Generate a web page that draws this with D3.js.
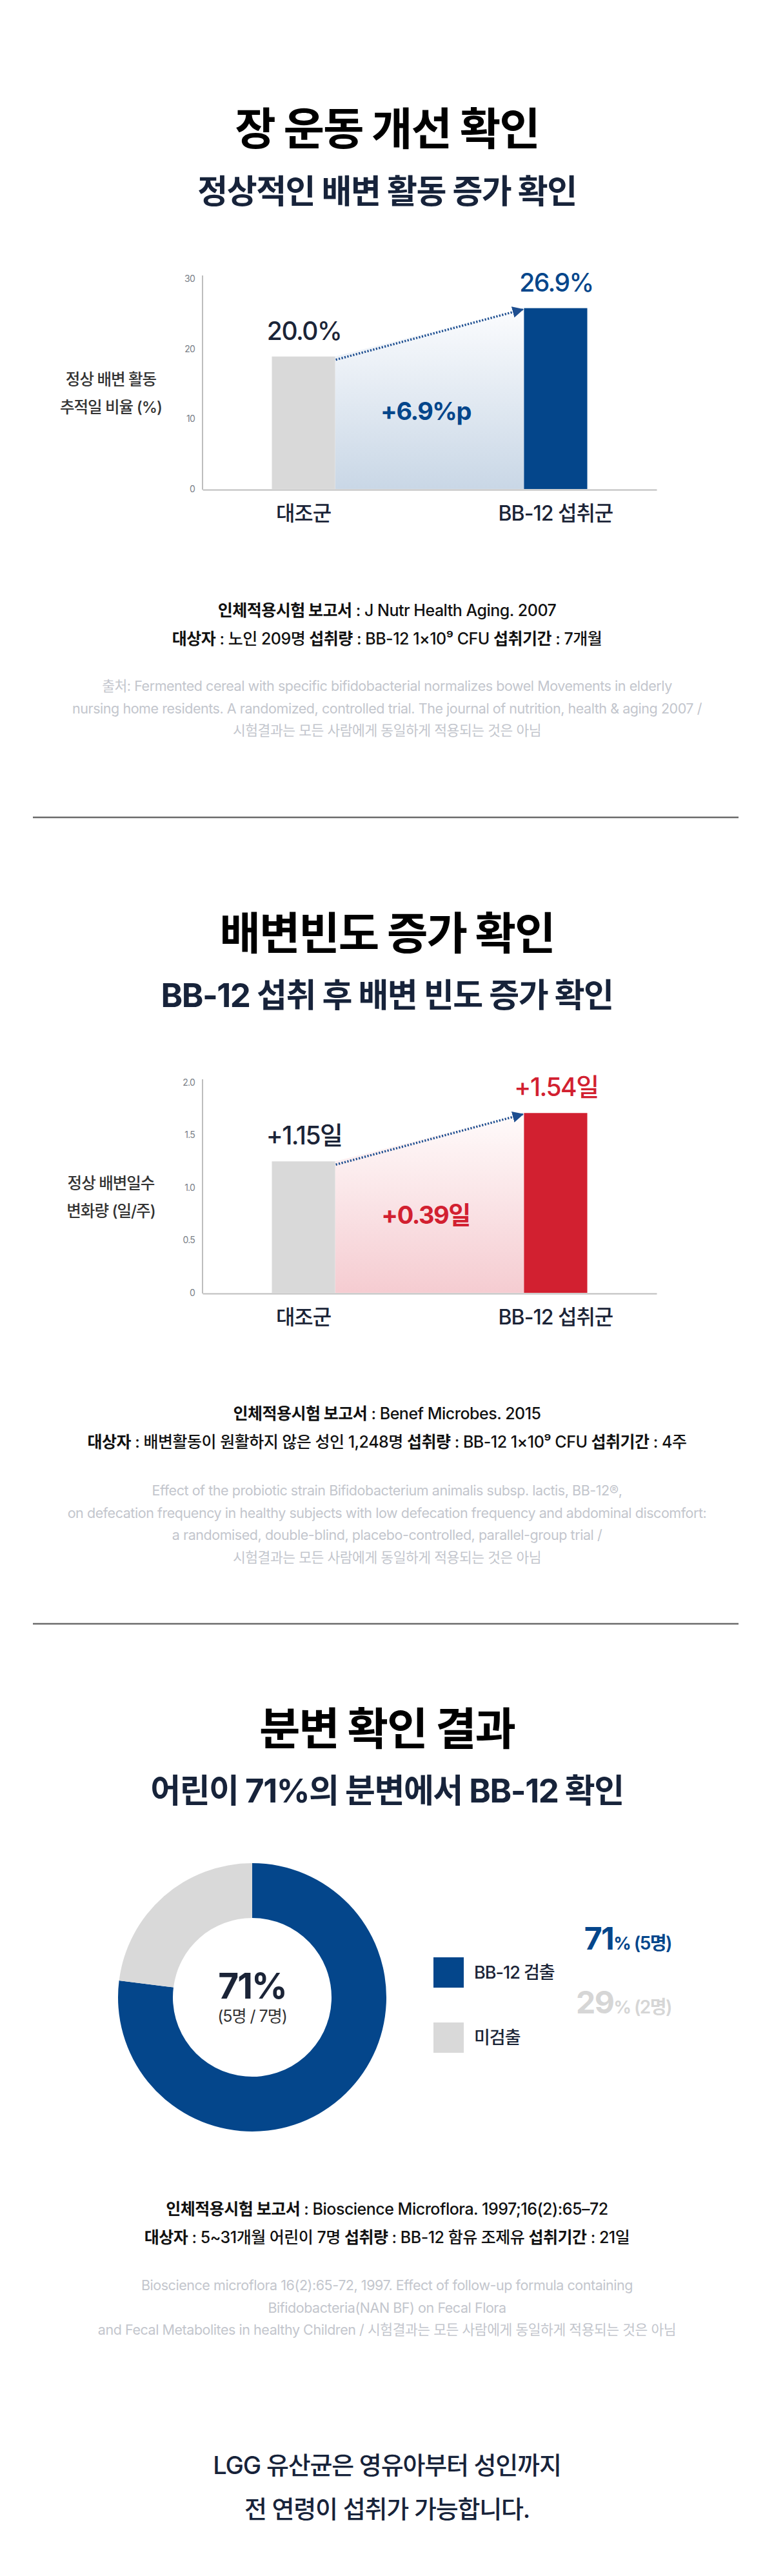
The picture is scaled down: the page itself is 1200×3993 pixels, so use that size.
<!DOCTYPE html>
<html><head><meta charset="utf-8">
<script src="https://cdn.jsdelivr.net/npm/d3@7"></script>
<style>html,body{margin:0;padding:0;background:#fff}svg{display:block}</style>
</head><body><div id="chart"></div>
<script>
// ---------------- DATA ----------------
const section1Title = "장 운동 개선 확인";
const section1Subtitle = "정상적인 배변 활동 증가 확인";
const chart1Categories = ["대조군", "BB-12 섭취군"];
const chart1Values = [18.9, 25.8];              // bar heights as drawn
const chart1ValueLabels = ["20.0%", "26.9%"];
const chart1DiffLabel = "+6.9%p";
const chart1Ticks = [0, 10, 20, 30];
const chart1TickLabels = ["0", "10", "20", "30"];
const chart1AxisTitle = ["정상 배변 활동", "추적일 비율 (%)"];
const chart1Report = [
  [["인체적용시험 보고서", 1], [" : J Nutr Health Aging. 2007", 0]],
  [["대상자", 1], [" : 노인 209명 ", 0], ["섭취량", 1], [" : BB-12 1×10⁹ CFU ", 0], ["섭취기간", 1], [" : 7개월", 0]]
];
const chart1Source = [
  "출처: Fermented cereal with specific bifidobacterial normalizes bowel Movements in elderly",
  "nursing home residents. A randomized, controlled trial. The journal of nutrition, health & aging 2007 /",
  "시험결과는 모든 사람에게 동일하게 적용되는 것은 아님"
];

const section2Title = "배변빈도 증가 확인";
const section2Subtitle = "BB-12 섭취 후 배변 빈도 증가 확인";
const chart2Categories = ["대조군", "BB-12 섭취군"];
const chart2Values = [1.25, 1.71];              // bar heights as drawn
const chart2ValueLabels = ["+1.15일", "+1.54일"];
const chart2DiffLabel = "+0.39일";
const chart2Ticks = [0, 0.5, 1.0, 1.5, 2.0];
const chart2TickLabels = ["0", "0.5", "1.0", "1.5", "2.0"];
const chart2AxisTitle = ["정상 배변일수", "변화량 (일/주)"];
const chart2Report = [
  [["인체적용시험 보고서", 1], [" : Benef Microbes. 2015", 0]],
  [["대상자", 1], [" : 배변활동이 원활하지 않은 성인 1,248명 ", 0], ["섭취량", 1], [" : BB-12 1×10⁹ CFU ", 0], ["섭취기간", 1], [" : 4주", 0]]
];
const chart2Source = [
  "Effect of the probiotic strain Bifidobacterium animalis subsp. lactis, BB-12®,",
  "on defecation frequency in healthy subjects with low defecation frequency and abdominal discomfort:",
  "a randomised, double-blind, placebo-controlled, parallel-group trial /",
  "시험결과는 모든 사람에게 동일하게 적용되는 것은 아님"
];

const section3Title = "분변 확인 결과";
const section3Subtitle = "어린이 71%의 분변에서 BB-12 확인";
const donutCategories = ["BB-12 검출", "미검출"];
const donutValues = [77, 23];                   // arc shares as drawn
const donutPercentLabels = ["71", "29"];
const donutCountLabels = ["(5명)", "(2명)"];
const donutCenterLabel = "71%";
const donutCenterSub = "(5명 / 7명)";
const chart3Report = [
  [["인체적용시험 보고서", 1], [" : Bioscience Microflora. 1997;16(2):65–72", 0]],
  [["대상자", 1], [" : 5~31개월 어린이 7명 ", 0], ["섭취량", 1], [" : BB-12 함유 조제유 ", 0], ["섭취기간", 1], [" : 21일", 0]]
];
const chart3Source = [
  "Bioscience microflora 16(2):65-72, 1997. Effect of follow-up formula containing",
  "Bifidobacteria(NAN BF) on Fecal Flora",
  "and Fecal Metabolites in healthy Children / 시험결과는 모든 사람에게 동일하게 적용되는 것은 아님"
];
const closingLines = ["LGG 유산균은 영유아부터 성인까지", "전 연령이 섭취가 가능합니다."];

// ---------------- STYLE ----------------
const FONT = "Inter, 'Noto Sans CJK KR', sans-serif";
const KFONT = "'Noto Sans CJK KR', Inter, sans-serif";
const NAVY = "#17233a";
const BLUE = "#04468b";
const RED = "#d22030";
const GREYBAR = "#d9d9d9";
const W = 1200, H = 3993;

const svg = d3.select("#chart").append("svg").attr("width", W).attr("height", H)
  .attr("viewBox", `0 0 ${W} ${H}`);
svg.append("rect").attr("width", W).attr("height", H).attr("fill", "#fff");
const defs = svg.append("defs");

function txt(parent, x, y, s, o = {}) {
  return parent.append("text").attr("x", x).attr("y", y).text(s)
    .attr("font-family", o.family || FONT).attr("font-size", o.size || 20)
    .attr("font-weight", o.weight || 400).attr("fill", o.color || "#000")
    .attr("text-anchor", o.anchor || "middle")
    .attr("letter-spacing", o.ls || 0);
}
function rich(parent, x, y, segs, o) {
  const t = parent.append("text").attr("x", x).attr("y", y)
    .attr("font-family", FONT).attr("font-size", o.size).attr("fill", o.color)
    .attr("text-anchor", "middle").attr("letter-spacing", o.ls || 0);
  segs.forEach(s => t.append("tspan").text(s[0]).attr("font-weight", s[1] ? 700 : 500));
  return t;
}

function heading(title, sub, yTitle, ySub) {
  txt(svg, 600, yTitle, title, {family: KFONT, size: 69, weight: 700, color: "#000", ls: -2});
  txt(svg, 600, ySub, sub, {size: 51, weight: 700, color: NAVY, ls: -1.5});
}
function report(lines, y0, sources, ys) {
  rich(svg, 600, y0, lines[0], {size: 25, color: "#111", ls: -0.5});
  rich(svg, 600, y0 + 44, lines[1], {size: 25, color: "#111", ls: -0.5});
  sources.forEach((s, i) => txt(svg, 600, ys + i * 34.5, s, {size: 21.5, color: "#c3c6cd", ls: -0.45}));
}

// ---------------- BAR CHART ----------------
function barChart(cfg) {
  const g = svg.append("g");
  const x = d3.scaleBand().domain(cfg.categories).range([314, 1018])
    .paddingInner(0.749).paddingOuter(0.275);
  const y = d3.scaleLinear().domain(cfg.domain).range(cfg.range);
  const bw = x.bandwidth();
  const y0 = y(0);

  // gradient area between bars
  const gid = cfg.id + "-grad";
  const grad = defs.append("linearGradient").attr("id", gid)
    .attr("x1", 0).attr("y1", 0).attr("x2", 0).attr("y2", 1);
  grad.append("stop").attr("offset", 0).attr("stop-color", cfg.gradTop);
  grad.append("stop").attr("offset", 1).attr("stop-color", cfg.gradBottom);
  const pts = [
    {x: x(cfg.categories[0]) + bw, y: y(cfg.values[0])},
    {x: x(cfg.categories[1]), y: y(cfg.values[1])}
  ];
  const area = d3.area().x(d => d.x).y0(y0).y1(d => d.y);
  g.append("path").attr("d", area(pts)).attr("fill", `url(#${gid})`);

  // bars
  g.selectAll("rect.bar").data(cfg.values).join("rect").attr("class", "bar")
    .attr("x", (d, i) => x(cfg.categories[i])).attr("width", bw)
    .attr("y", d => y(d)).attr("height", d => y0 - y(d))
    .attr("fill", (d, i) => cfg.colors[i]);

  // axes
  const ay = d3.axisLeft(y).tickValues(cfg.ticks).tickSize(0).tickPadding(12)
    .tickFormat((d, i) => cfg.tickLabels[i]);
  const gy = g.append("g").attr("transform", "translate(314,0)").call(ay);
  gy.select(".domain").attr("stroke", "#bdbdbd").attr("stroke-width", 2)
    .attr("d", `M0,${y0 + 1}V${y(cfg.domain[1]) - 5}`);
  gy.selectAll("text").attr("font-family", FONT).attr("font-size", 14).attr("fill", "#7a7f88")
    .attr("letter-spacing", -0.8);
  const ax = d3.axisBottom(x).tickSize(0).tickFormat(() => "");
  const gx = g.append("g").attr("transform", `translate(0,${y0 + 1})`).call(ax);
  gx.select(".domain").attr("stroke", "#bdbdbd").attr("stroke-width", 2);

  // category labels
  cfg.categories.forEach(c => txt(g, x(c) + bw / 2, y0 + 49, c,
    {size: 32, weight: 500, color: "#1b2437", ls: -1}));

  // value labels
  cfg.values.forEach((v, i) => txt(g, x(cfg.categories[i]) + bw / 2 + 1, y(v) - 26, cfg.valueLabels[i],
    {size: 39, weight: 500, color: cfg.labelColors[i], ls: -1.5}));

  // diff label
  txt(g, (pts[0].x + pts[1].x) / 2 - 6, y0 - 107, cfg.diffLabel,
    {size: 38, weight: 700, color: cfg.diffColor, ls: -1.5});

  // dotted arrow
  const mid = cfg.id + "-arrow";
  defs.append("marker").attr("id", mid).attr("viewBox", "0 0 10 10").attr("refX", 9).attr("refY", 5)
    .attr("markerWidth", 5).attr("markerHeight", 5).attr("markerUnits", "strokeWidth").attr("orient", "auto")
    .append("path").attr("d", "M0,0L10,5L0,10Z").attr("fill", "#1d4e90");
  g.append("line")
    .attr("x1", pts[0].x + 1).attr("y1", pts[0].y + 5)
    .attr("x2", pts[1].x - 2).attr("y2", pts[1].y + 2)
    .attr("stroke", "#1d4e90").attr("stroke-width", 3.5).attr("stroke-dasharray", "2.2 2.4")
    .attr("marker-end", `url(#${mid})`);

  // axis title
  const cy = (y0 + y(cfg.domain[1])) / 2;
  cfg.axisTitle.forEach((s, i) => txt(g, 172, cy + 2 + i * 43, s,
    {size: 24.5, weight: 500, color: "#333", ls: -1}));
}

// ---------------- SECTION 1 ----------------
heading(section1Title, section1Subtitle, 225, 315);
barChart({id: "c1", categories: chart1Categories, values: chart1Values, domain: [0, 30], range: [758, 432],
  ticks: chart1Ticks, tickLabels: chart1TickLabels, colors: [GREYBAR, BLUE], labelColors: ["#1b2437", BLUE],
  valueLabels: chart1ValueLabels, diffLabel: chart1DiffLabel, diffColor: BLUE,
  gradTop: "#fbfcfe", gradBottom: "#c9d7e6", axisTitle: chart1AxisTitle});
report(chart1Report, 955, chart1Source, 1071);
svg.append("line").attr("x1", 51).attr("x2", 1145).attr("y1", 1267).attr("y2", 1267)
  .attr("stroke", "#6b6b6b").attr("stroke-width", 2.5);

// ---------------- SECTION 2 ----------------
heading(section2Title, section2Subtitle, 1472, 1561);
barChart({id: "c2", categories: chart2Categories, values: chart2Values, domain: [0, 2], range: [2004, 1678],
  ticks: chart2Ticks, tickLabels: chart2TickLabels, colors: [GREYBAR, RED], labelColors: ["#1b2437", RED],
  valueLabels: chart2ValueLabels, diffLabel: chart2DiffLabel, diffColor: RED,
  gradTop: "#fffbfb", gradBottom: "#f5ccd1", axisTitle: chart2AxisTitle});
report(chart2Report, 2200, chart2Source, 2318);
svg.append("line").attr("x1", 51).attr("x2", 1145).attr("y1", 2517).attr("y2", 2517)
  .attr("stroke", "#6b6b6b").attr("stroke-width", 2.5);

// ---------------- SECTION 3 ----------------
heading(section3Title, section3Subtitle, 2705, 2794);
const donutColors = d3.scaleOrdinal().domain(donutCategories).range([BLUE, GREYBAR]);
const pie = d3.pie().sort(null).value(d => d);
const arc = d3.arc().innerRadius(123).outerRadius(208);
const dg = svg.append("g").attr("transform", "translate(391,3096)");
dg.selectAll("path").data(pie(donutValues)).join("path")
  .attr("d", arc).attr("fill", (d, i) => donutColors(donutCategories[i]));
txt(dg, 0, 2, donutCenterLabel, {size: 55, weight: 700, color: "#1b2437", ls: -2});
txt(dg, 0, 38, donutCenterSub, {size: 25, weight: 400, color: "#333", ls: -1});

// legend
const legY = [3034, 3135];
donutCategories.forEach((c, i) => {
  svg.append("rect").attr("x", 672).attr("y", legY[i]).attr("width", 47).attr("height", 47)
    .attr("fill", donutColors(c));
  txt(svg, 735, legY[i] + 33, c, {size: 27, weight: 500, color: "#1b2437", anchor: "start", ls: -1});
});
const valY = [3022, 3121];
const valColors = [BLUE, "#d6d6d6"];
donutPercentLabels.forEach((p, i) => {
  const t = svg.append("text").attr("x", 1041).attr("y", valY[i]).attr("text-anchor", "end")
    .attr("font-family", FONT).attr("fill", valColors[i]).attr("letter-spacing", -1.5);
  t.append("tspan").text(p).attr("font-size", 48).attr("font-weight", 700);
  t.append("tspan").text("%").attr("font-size", 27).attr("font-weight", 700);
  t.append("tspan").text(" " + donutCountLabels[i]).attr("font-size", 28).attr("font-weight", 600);
});
report(chart3Report, 3433, chart3Source, 3550);

// closing
closingLines.forEach((s, i) => txt(svg, 600, 3835 + i * 68, s,
  {size: 38, weight: 500, color: NAVY, ls: -1.2}));
</script>
</body></html>
